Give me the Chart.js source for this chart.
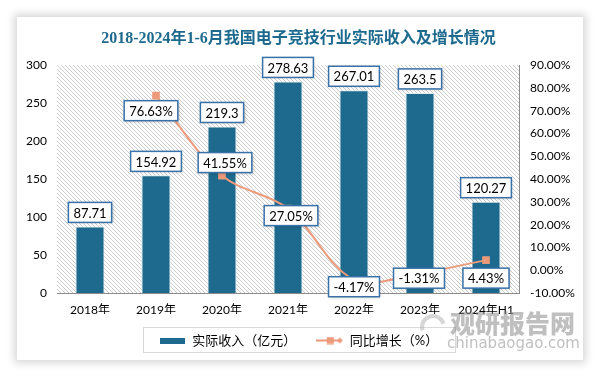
<!DOCTYPE html>
<html>
<head>
<meta charset="utf-8">
<script src="https://cdn.jsdelivr.net/npm/chart.js"></script>
<style>
html, body { margin: 0; padding: 0; background: #fff; }
#wrap { position: relative; width: 597px; height: 372px; }
#card { position: absolute; left: 17px; top: 17px; width: 566px; height: 343px; background: #fff; box-shadow: 0 0 8px 3px rgba(0,0,0,0.16); }
#myChart { position: absolute; left: 0; top: 0; }
</style>
</head>
<body>
<div id="wrap"><div id="card"></div><canvas id="myChart" width="597" height="372"></canvas></div>
<script>
// data
var years = ['2018年', '2019年', '2020年', '2021年', '2022年', '2023年', '2024年H1'];
var revenue = [87.71, 154.92, 219.3, 278.63, 267.01, 263.5, 120.27];
var growth = [null, 76.63, 41.55, 27.05, -4.17, -1.31, 4.43];
var leftTicks = [0, 50, 100, 150, 200, 250, 300];
var rightTicks = [-10, 0, 10, 20, 30, 40, 50, 60, 70, 80, 90];

// where each growth label box sits relative to its point (px)
var growthLabelShift = [null, [-5, 15], [3, -13], [3, 7], [0, 7], [-1, 5], [0, 18]];

var barColor = '#1D6A8E';
var lineColor = '#EC9A7A';
var fontFam = 'Lato, "Noto Sans CJK SC", sans-serif';

// hatch pattern for the plot background
function makeHatch() {
    var c = document.createElement('canvas');
    c.width = 4; c.height = 4;
    var g = c.getContext('2d');
    g.strokeStyle = '#cccccc';
    g.lineWidth = 1;
    g.beginPath();
    g.moveTo(-1, -1); g.lineTo(5, 5);
    g.moveTo(3, -1); g.lineTo(5, 1);
    g.moveTo(-1, 3); g.lineTo(1, 5);
    g.stroke();
    return c;
}

// legend icons
function barIcon() {
    var c = document.createElement('canvas');
    c.width = 25; c.height = 6;
    var g = c.getContext('2d');
    g.fillStyle = barColor;
    g.fillRect(0, 0, 25, 6);
    return c;
}
function lineIcon() {
    var c = document.createElement('canvas');
    c.width = 28; c.height = 8;
    var g = c.getContext('2d');
    g.strokeStyle = lineColor;
    g.lineWidth = 2;
    g.beginPath(); g.moveTo(0, 4); g.lineTo(26, 4); g.stroke();
    g.fillStyle = lineColor;
    g.fillRect(11, 0.5, 7, 7);
    g.beginPath();
    g.moveTo(24, 1); g.lineTo(27, 4); g.lineTo(24, 7); g.lineTo(21, 4); g.closePath();
    g.fill();
    return c;
}

function drawBox(ctx, text, cx, cy) {
    ctx.save();
    ctx.font = '13px ' + fontFam;
    var w = ctx.measureText(text).width + 10;
    var h = 20;
    ctx.shadowColor = 'rgba(0,0,0,0.25)';
    ctx.shadowBlur = 3;
    ctx.shadowOffsetX = 1;
    ctx.shadowOffsetY = 1;
    ctx.fillStyle = '#fff';
    ctx.fillRect(cx - w / 2, cy - h / 2, w, h);
    ctx.shadowColor = 'transparent';
    ctx.strokeStyle = '#3872A8';
    ctx.lineWidth = 1.5;
    ctx.strokeRect(cx - w / 2, cy - h / 2, w, h);
    ctx.fillStyle = '#000';
    ctx.textAlign = 'center';
    ctx.textBaseline = 'middle';
    ctx.fillText(text, cx, cy + 1);
    ctx.restore();
}

var hatchPlugin = {
    id: 'hatch',
    beforeDatasetsDraw: function(chart) {
        var a = chart.chartArea, ctx = chart.ctx;
        ctx.save();
        ctx.fillStyle = ctx.createPattern(makeHatch(), 'repeat');
        ctx.fillRect(a.left, a.top, a.right - a.left, a.bottom - a.top);
        ctx.restore();
    }
};

var labelPlugin = {
    id: 'boxLabels',
    afterDatasetsDraw: function(chart) {
        var ctx = chart.ctx;
        var bars = chart.getDatasetMeta(1).data;
        bars.forEach(function(b, i) {
            drawBox(ctx, String(revenue[i]), b.x, b.y - 14);
        });
        var pts = chart.getDatasetMeta(0).data;
        pts.forEach(function(p, i) {
            if (growth[i] === null) return;
            var s = growthLabelShift[i];
            drawBox(ctx, growth[i].toFixed(2) + '%', p.x + s[0], p.y + s[1]);
        });
    }
};

var extrasPlugin = {
    id: 'extras',
    afterDraw: function(chart) {
        var ctx = chart.ctx;
        ctx.save();
        // legend frame
        ctx.strokeStyle = '#d9d9d9';
        ctx.lineWidth = 1;
        ctx.strokeRect(143.5, 327.5, 312, 25);
        // watermark
        ctx.globalAlpha = 0.55;
        ctx.fillStyle = '#8a8a8a';
        ctx.font = '900 25px "Noto Sans CJK SC", sans-serif';
        ctx.textBaseline = 'middle';
        ctx.textAlign = 'left';
        ctx.fillText('观研报告网', 450, 323);
        ctx.font = '15px "DejaVu Sans", sans-serif';
        ctx.fillText('chinabaogao.com', 447, 344);
        ctx.lineWidth = 4;
        ctx.strokeStyle = '#b5b5b5';
        ctx.beginPath();
        ctx.arc(433, 327, 11, Math.PI * 0.9, Math.PI * 1.9);
        ctx.stroke();
        ctx.restore();
    }
};

var ctx = document.getElementById('myChart').getContext('2d');
new Chart(ctx, {
    data: {
        labels: years,
        datasets: [{
            type: 'line',
            label: '同比增长（%）',
            data: growth,
            yAxisID: 'y1',
            borderColor: lineColor,
            backgroundColor: lineColor,
            borderWidth: 2,
            tension: 0.35,
            pointStyle: 'rect',
            pointRadius: 4,
            pointBackgroundColor: lineColor,
            pointBorderColor: lineColor,
            order: 0
        }, {
            type: 'bar',
            label: '实际收入（亿元）',
            data: revenue,
            yAxisID: 'y',
            backgroundColor: barColor,
            borderColor: '#dfe9ee',
            borderWidth: 1,
            barPercentage: 0.44,
            categoryPercentage: 1,
            order: 1
        }]
    },
    options: {
        responsive: false,
        animation: false,
        layout: { padding: { left: 0, right: 0, top: 0, bottom: 15 } },
        plugins: {
            tooltip: { enabled: false },
            title: {
                display: true,
                text: '2018-2024年1-6月我国电子竞技行业实际收入及增长情况',
                color: '#1D6A8E',
                font: { size: 16, weight: 'bold', family: '"Liberation Serif", "Noto Sans CJK SC", serif' },
                padding: { top: 29, bottom: 17 }
            },
            legend: {
                position: 'bottom',
                labels: {
                    usePointStyle: true,
                    pointStyleWidth: 27,
                    padding: 20,
                    color: '#000',
                    font: { size: 13, family: fontFam },
                    generateLabels: function(chart) {
                        return [
                            { text: '实际收入（亿元）', pointStyle: barIcon(), datasetIndex: 1, fontColor: '#000', lineWidth: 0 },
                            { text: '同比增长（%）', pointStyle: lineIcon(), datasetIndex: 0, fontColor: '#000', lineWidth: 0 }
                        ];
                    }
                }
            }
        },
        scales: {
            x: {
                grid: { display: false, drawTicks: false },
                border: { display: true, color: '#8c8c8c' },
                ticks: { color: '#000', padding: 10, font: { size: 12, family: fontFam }, maxRotation: 0 },
                afterFit: function(s) { s.height = 21; }
            },
            y: {
                position: 'left',
                min: 0, max: 300,
                afterBuildTicks: function(s) { s.ticks = leftTicks.map(function(v) { return { value: v }; }); },
                grid: { display: false, drawTicks: false },
                border: { display: false },
                ticks: { color: '#000', padding: 10, font: { size: 12, family: fontFam } },
                afterFit: function(s) { s.width = 57; }
            },
            y1: {
                position: 'right',
                min: -10, max: 90,
                afterBuildTicks: function(s) { s.ticks = rightTicks.map(function(v) { return { value: v }; }); },
                grid: { display: false, drawTicks: false },
                border: { display: true, color: '#8c8c8c' },
                ticks: {
                    color: '#000', padding: 11, font: { size: 12, family: fontFam },
                    callback: function(v) { return v.toFixed(2) + '%'; }
                },
                afterFit: function(s) { s.width = 78; }
            }
        }
    },
    plugins: [hatchPlugin, labelPlugin, extrasPlugin]
});
</script>
</body>
</html>
